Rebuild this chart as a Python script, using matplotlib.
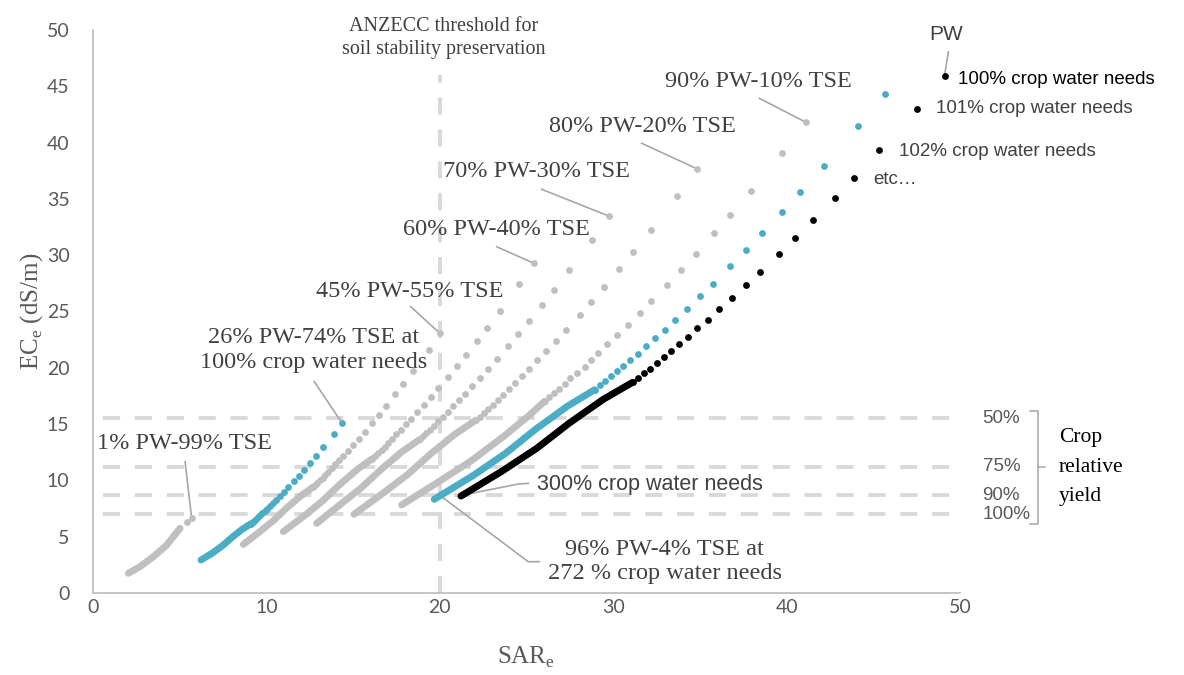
import matplotlib.pyplot as plt

# ---- data (SAR_e, EC_e) ----
# each scenario: a dense low part (overlapping points, drawn as a thick line) + the sparse upper dots
pw1_dense_x = [2.04, 2.71, 3.48, 4.25, 5.02]
pw1_dense_y = [1.75, 2.34, 3.22, 4.26, 5.74]
pw1_dots_x = [5.40, 5.69]
pw1_dots_y = [6.33, 6.63]

pw26_dense_x = [6.23, 6.91, 7.49, 8.03, 8.61, 9.11]
pw26_dense_y = [2.93, 3.57, 4.23, 4.96, 5.66, 6.16]
pw26_dots_x = [14.38, 13.90, 13.27, 12.85, 12.52, 12.15, 11.86, 11.58, 11.26, 11.02, 10.79, 10.57,
               10.38, 10.20, 10.04, 9.90, 9.76, 9.63, 9.52, 9.41, 9.30, 9.20, 9.11]
pw26_dots_y = [15.12, 14.14, 12.95, 12.14, 11.56, 10.90, 10.39, 9.92, 9.38, 8.99, 8.63, 8.29,
               7.99, 7.74, 7.49, 7.27, 7.07, 6.89, 6.71, 6.56, 6.42, 6.29, 6.16]

pw45_dense_x = [8.67, 9.62, 10.42, 11.18, 11.99, 12.68]
pw45_dense_y = [4.32, 5.45, 6.45, 7.57, 8.63, 9.39]
pw45_dots_x = [20.01, 19.35, 18.47, 17.88, 17.43, 16.91, 16.50, 16.11, 15.67, 15.33, 15.01, 14.70,
               14.44, 14.19, 13.97, 13.77, 13.58, 13.40, 13.24, 13.09, 12.94, 12.80, 12.68]
pw45_dots_y = [23.06, 21.58, 19.75, 18.52, 17.63, 16.63, 15.85, 15.13, 14.31, 13.72, 13.17, 12.65,
               12.18, 11.80, 11.43, 11.09, 10.79, 10.51, 10.24, 10.00, 9.79, 9.60, 9.39]

pw60_dense_x = [10.97, 12.23, 13.25, 14.21, 15.23, 16.11]
pw60_dense_y = [5.45, 6.91, 8.19, 9.61, 10.96, 11.93]
pw60_dots_x = [25.43, 24.59, 23.47, 22.72, 22.15, 21.49, 20.97, 20.48, 19.91, 19.48, 19.07, 18.69,
               18.35, 18.04, 17.76, 17.50, 17.25, 17.03, 16.83, 16.64, 16.44, 16.27, 16.11]
pw60_dots_y = [29.28, 27.40, 25.08, 23.52, 22.39, 21.12, 20.12, 19.20, 18.17, 17.42, 16.72, 16.06,
               15.47, 14.99, 14.51, 14.08, 13.70, 13.34, 13.00, 12.70, 12.44, 12.19, 11.93]

pw70_dense_x = [12.90, 14.30, 15.49, 16.62, 17.81, 18.84]
pw70_dense_y = [6.19, 7.91, 9.37, 10.98, 12.54, 13.64]
pw70_dots_x = [29.74, 28.75, 27.45, 26.57, 25.90, 25.13, 24.52, 23.95, 23.29, 22.78, 22.31, 21.85,
               21.46, 21.09, 20.77, 20.47, 20.17, 19.92, 19.68, 19.45, 19.22, 19.02, 18.84]
pw70_dots_y = [33.48, 31.32, 28.67, 26.89, 25.60, 24.15, 23.01, 21.96, 20.78, 19.92, 19.12, 18.37,
               17.69, 17.13, 16.59, 16.10, 15.66, 15.25, 14.87, 14.52, 14.22, 13.93, 13.64]

pw80_dense_x = [15.05, 16.75, 18.15, 19.47, 20.87, 22.07]
pw80_dense_y = [6.99, 8.89, 10.53, 12.35, 14.10, 15.34]
pw80_dots_x = [34.85, 33.69, 32.17, 31.13, 30.35, 29.45, 28.73, 28.06, 27.29, 26.70, 26.14, 25.61,
               25.14, 24.72, 24.34, 23.98, 23.64, 23.34, 23.06, 22.80, 22.53, 22.29, 22.07]
pw80_dots_y = [37.66, 35.24, 32.25, 30.25, 28.79, 27.16, 25.88, 24.70, 23.37, 22.40, 21.50, 20.66,
               19.90, 19.27, 18.66, 18.11, 17.62, 17.16, 16.72, 16.33, 15.99, 15.67, 15.34]

pw90_dense_x = [17.80, 19.75, 21.74, 23.66, 25.10, 26.05]
pw90_dense_y = [7.82, 9.70, 11.66, 13.88, 15.70, 17.03]
pw90_dots_x = [41.12, 39.72, 37.95, 36.74, 35.81, 34.76, 33.89, 33.10, 32.20, 31.53, 30.85, 30.24,
               29.66, 29.10, 28.70, 28.37, 27.89, 27.51, 27.21, 26.90, 26.58, 26.31, 26.05]
pw90_dots_y = [41.80, 39.10, 35.73, 33.57, 31.94, 30.13, 28.71, 27.38, 25.93, 24.84, 23.80, 22.89,
               22.09, 21.35, 20.71, 20.10, 19.56, 19.05, 18.56, 18.13, 17.75, 17.40, 17.03]

pw96_dense_x = [19.68, 21.96, 23.79, 25.52, 27.36, 28.93]
pw96_dense_y = [8.32, 10.47, 12.40, 14.54, 16.59, 18.05]
pw96_dots_x = [45.67, 44.10, 42.14, 40.77, 39.75, 38.60, 37.64, 36.75, 35.74, 34.99, 34.24, 33.58,
               32.97, 32.39, 31.89, 31.41, 30.99, 30.58, 30.20, 29.87, 29.53, 29.22, 28.93]
pw96_dots_y = [44.32, 41.45, 37.92, 35.59, 33.86, 31.94, 30.43, 29.01, 27.47, 26.35, 25.25, 24.25,
               23.38, 22.62, 21.91, 21.25, 20.67, 20.16, 19.69, 19.25, 18.80, 18.45, 18.05]

pw100_dense_x = [21.22, 23.62, 25.59, 27.45, 29.43, 31.12]
pw100_dense_y = [8.61, 10.85, 12.85, 15.07, 17.20, 18.71]
pw100_dots_x = [49.13, 47.50, 45.35, 43.89, 42.79, 41.52, 40.51, 39.56, 38.47, 37.64, 36.85, 36.10,
                35.45, 34.85, 34.31, 33.81, 33.33, 32.91, 32.51, 32.14, 31.76, 31.43, 31.12]
pw100_dots_y = [45.94, 42.98, 39.34, 36.90, 35.12, 33.13, 31.57, 30.13, 28.51, 27.33, 26.23, 25.20,
                24.27, 23.51, 22.76, 22.09, 21.49, 20.93, 20.40, 19.92, 19.51, 19.12, 18.71]

yield_levels = [15.5, 11.2, 8.7, 7.0]
yield_labels = ['50%', '75%', '90%', '100%']
anzecc_sar = 20

GREY = '#BFBFBF'
BLUE = '#4BACC6'
BLACK = '#000000'
TXT = '#404040'
LEAD = '#A6A6A6'
DASH = (0, (4.4, 3.8))

fig = plt.figure(figsize=(11.84, 6.75), dpi=100)
ax = fig.add_axes([93 / 1184, 82 / 675, 867 / 1184, 563 / 675])

# threshold lines
for lev in yield_levels:
    ax.plot([0.6, 50], [lev, lev], color='#D9D9D9', lw=2.8, ls=DASH, zorder=1)
ax.plot([anzecc_sar, anzecc_sar], [0, 46], color='#D9D9D9', lw=2.8, ls=DASH, zorder=1)

series = [
    (pw1_dense_x, pw1_dense_y, pw1_dots_x, pw1_dots_y, GREY),
    (pw26_dense_x, pw26_dense_y, pw26_dots_x, pw26_dots_y, BLUE),
    (pw45_dense_x, pw45_dense_y, pw45_dots_x, pw45_dots_y, GREY),
    (pw60_dense_x, pw60_dense_y, pw60_dots_x, pw60_dots_y, GREY),
    (pw70_dense_x, pw70_dense_y, pw70_dots_x, pw70_dots_y, GREY),
    (pw80_dense_x, pw80_dense_y, pw80_dots_x, pw80_dots_y, GREY),
    (pw90_dense_x, pw90_dense_y, pw90_dots_x, pw90_dots_y, GREY),
    (pw96_dense_x, pw96_dense_y, pw96_dots_x, pw96_dots_y, BLUE),
    (pw100_dense_x, pw100_dense_y, pw100_dots_x, pw100_dots_y, BLACK),
]
for dx, dy, px, py, c in series:
    ax.plot(dx, dy, color=c, lw=5.0, solid_capstyle='round', solid_joinstyle='round', zorder=3)
    ax.plot(px, py, 'o', color=c, ms=4.9, mew=0, zorder=3, clip_on=False)

ax.set_xlim(0, 50)
ax.set_ylim(0, 50)
ax.set_xticks(range(0, 51, 10))
ax.set_yticks(range(0, 51, 5))
ax.tick_params(axis='x', length=0, labelsize=14, labelcolor='#595959', pad=4)
ax.tick_params(axis='y', length=0, labelsize=14, labelcolor='#595959', pad=17)
for lab in ax.get_xticklabels() + ax.get_yticklabels():
    lab.set_family('Lato')
for s in ['top', 'right']:
    ax.spines[s].set_visible(False)
for s in ['left', 'bottom']:
    ax.spines[s].set_color('#BFBFBF')
    ax.spines[s].set_linewidth(1.3)

ax.set_xlabel(r'SAR$_\mathregular{e}$', family='Liberation Serif', fontsize=18, color='#595959', labelpad=21)
ax.set_ylabel(r'EC$_\mathregular{e}$ (dS/m)', family='Liberation Serif', fontsize=18, color='#595959', labelpad=1)

serif = dict(family='Liberation Serif', color=TXT)
sans = dict(family='Liberation Sans', color=TXT)

ax.text(20.2, 49.3, 'ANZECC threshold for\nsoil stability preservation', ha='center', va='center',
        fontsize=14.5, linespacing=1.25, **serif)

# scenario labels with leader lines
labels = [
    ('90% PW-10% TSE', 38.4, 45.4, [38.43, 41.12], [43.93, 41.80]),
    ('80% PW-20% TSE', 31.66, 41.4, [31.64, 34.85], [39.94, 37.66]),
    ('70% PW-30% TSE', 25.6, 37.4, [25.88, 29.74], [35.85, 33.48]),
    ('60% PW-40% TSE', 23.27, 32.3, [23.28, 25.43], [30.75, 29.28]),
    ('45% PW-55% TSE', 18.28, 26.8, [18.32, 20.01], [25.43, 23.06]),
    ('26% PW-74% TSE at\n100% crop water needs', 12.75, 21.6, [12.76, 14.36], [18.77, 15.10]),
    ('1% PW-99% TSE', 5.28, 13.3, [5.31, 5.69], [11.66, 6.63]),
    ('96% PW-4% TSE at\n272 % crop water needs', 32.96, 2.8, [25.74, 25.10, 20.11], [2.78, 2.78, 8.55]),
]
for txt, tx, ty, lx, ly in labels:
    ax.text(tx, ty, txt, ha='center', va='center', fontsize=17.5, linespacing=1.22, **serif)
    ax.plot(lx, ly, color=LEAD, lw=1.2, zorder=2, clip_on=False)

ax.text(25.6, 9.6, '300% crop water needs', ha='left', va='center', fontsize=15.5, **sans)
ax.plot([25.10, 24.52, 21.35], [9.74, 9.68, 8.70], color=LEAD, lw=1.2, zorder=2)

ax.text(49.2, 49.6, 'PW', ha='center', va='center', fontsize=15, **sans)
ax.plot([49.33, 49.13], [48.07, 46.15], color=LEAD, lw=1.2, zorder=2, clip_on=False)
ax.text(49.9, 45.6, '100% crop water needs', ha='left', va='center', fontsize=13.5,
        family='Liberation Sans', color='black')
ax.text(48.6, 43.0, '101% crop water needs', ha='left', va='center', fontsize=13.5, **sans)
ax.text(46.5, 39.25, '102% crop water needs', ha='left', va='center', fontsize=13.5, **sans)
ax.text(45.0, 36.7, 'etc…', ha='left', va='center', fontsize=13.5, **sans)

# crop relative yield labels + brace
for lev, lab in zip(yield_levels, yield_labels):
    ax.text(51.3, lev, lab, ha='left', va='center', fontsize=13.5, family='Liberation Sans',
            color='#595959', clip_on=False)
bx = [1030 / 1184, 1038 / 1184, 1038 / 1184, 1030 / 1184]
by = [1 - 410.7 / 675, 1 - 410.7 / 675, 1 - 524.3 / 675, 1 - 524.3 / 675]
fig.add_artist(plt.Line2D(bx, by, color='#A6A6A6', lw=1.1))
fig.add_artist(plt.Line2D([1038 / 1184, 1045 / 1184], [1 - 467.3 / 675] * 2, color='#A6A6A6', lw=1.1))
fig.text(1059 / 1184, 1 - 467 / 675, 'Crop\nrelative\nyield', ha='left', va='center', fontsize=15.5,
         linespacing=1.75, family='Liberation Serif', color='black')

fig.savefig('out.png', dpi=100)
